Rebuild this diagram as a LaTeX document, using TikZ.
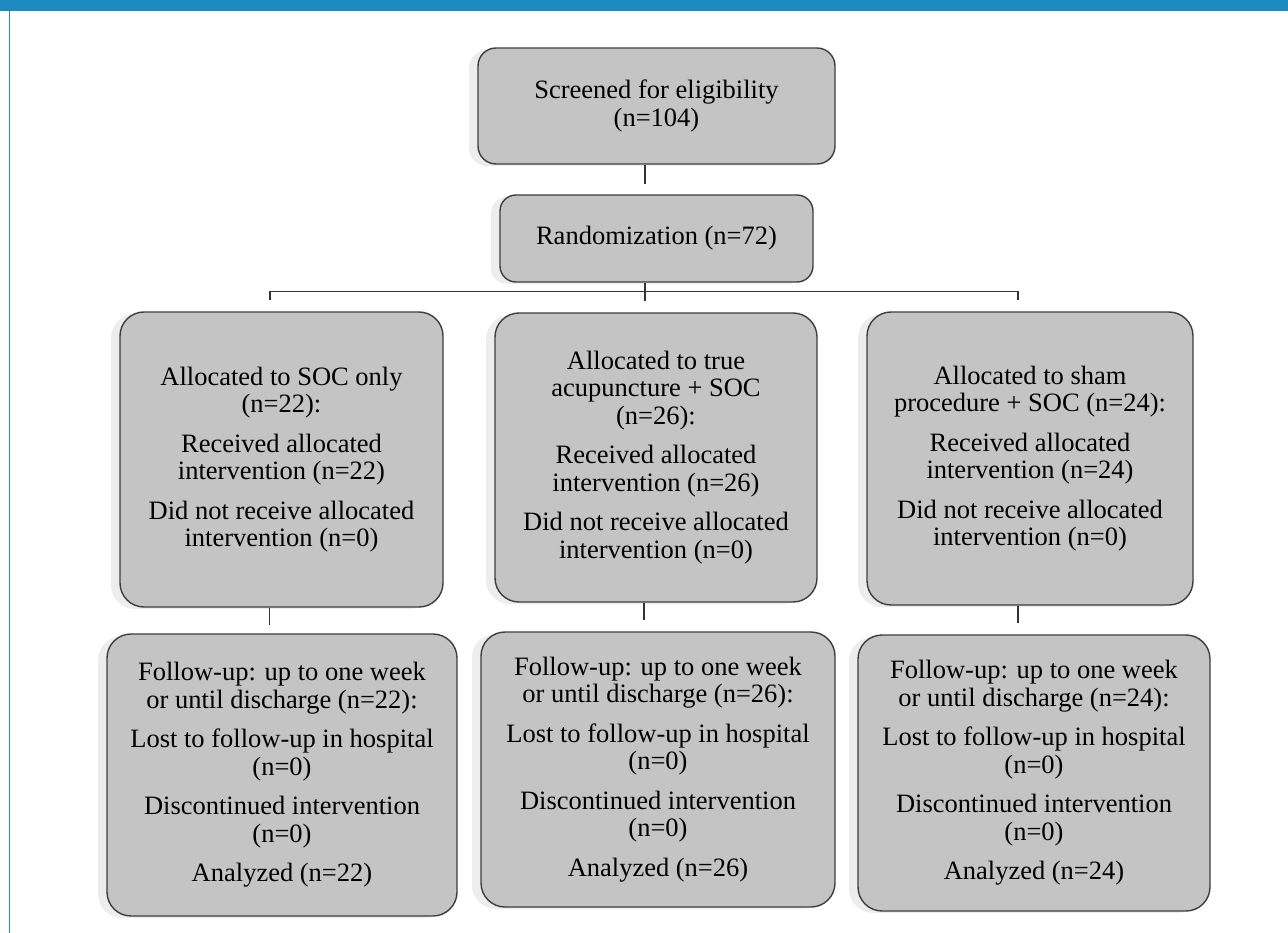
\documentclass[tikz,border=0pt]{standalone}
\usepackage{fontspec}
\setmainfont{Liberation Serif}
\usepackage{tikz}
\usetikzlibrary{calc,shadows}

\definecolor{kopfblau}{RGB}{30,137,192}
\definecolor{boxgrau}{RGB}{196,196,196}
\definecolor{randgrau}{RGB}{62,62,62}

\begin{document}
\begin{tikzpicture}[x=1pt, y=-1pt,
	kasten/.style={draw=randgrau, line width=1.4pt, fill=boxgrau, rounded corners=24pt,
		align=center, inner sep=0pt, font=\fontsize{26.5}{27.5}\selectfont,
		drop shadow={shadow xshift=-9pt, shadow yshift=-2pt, fill=black!7, opacity=1}},
	linie/.style={draw=black!80, line width=1.4pt}]
	\fill[white] (0,0) rectangle (1288,933); % Weisser Hintergrund
	\useasboundingbox (0,0) rectangle (1288,933);
	
	% Rahmen oben und links
	\fill[kopfblau] (0,0) rectangle (1288,11);
	\fill[kopfblau] (8.5,11) rectangle (10,933);
	
	\node[kasten, minimum width=357pt, minimum height=116pt, rounded corners=18pt] (screen) at (656.5,106) {Screened for eligibility\\(n=104)};
	\node[kasten, minimum width=313pt, minimum height=87pt, rounded corners=16pt] (rand) at (656.5,238.5) {Randomization (n=72)};
	
	% Gruppen
	\node[kasten, minimum width=323pt, minimum height=295pt] (soc) at (281.5,459.5) {Allocated to SOC only\\(n=22):\\[12pt]Received allocated\\intervention (n=22)\\[12pt]Did not receive allocated\\intervention (n=0)};
	\node[kasten, minimum width=322pt, minimum height=289pt] (akup) at (656,457.5) {Allocated to true\\acupuncture + SOC\\(n=26):\\[12pt]Received allocated\\intervention (n=26)\\[12pt]Did not receive allocated\\intervention (n=0)};
	\node[kasten, minimum width=326pt, minimum height=293pt] (sham) at (1030,458.5) {Allocated to sham\\procedure + SOC (n=24):\\[12pt]Received allocated\\intervention (n=24)\\[12pt]Did not receive allocated\\intervention (n=0)};
	
	% Follow-up
	\node[kasten, minimum width=350pt, minimum height=282pt] (fuSoc) at (282,775) {Follow-up: up to one week\\or until discharge (n=22):\\[12pt]Lost to follow-up in hospital\\(n=0)\\[12pt]Discontinued intervention\\(n=0)\\[12pt]Analyzed (n=22)};
	\node[kasten, minimum width=354pt, minimum height=275pt] (fuAkup) at (658,769.5) {Follow-up: up to one week\\or until discharge (n=26):\\[12pt]Lost to follow-up in hospital\\(n=0)\\[12pt]Discontinued intervention\\(n=0)\\[12pt]Analyzed (n=26)};
	\node[kasten, minimum width=352pt, minimum height=276pt] (fuSham) at (1034,773) {Follow-up: up to one week\\or until discharge (n=24):\\[12pt]Lost to follow-up in hospital\\(n=0)\\[12pt]Discontinued intervention\\(n=0)\\[12pt]Analyzed (n=24)};
	
	% Verbindungen
	\draw[linie] ([xshift=-11.5pt]screen.south) -- ++(0,19);
	\draw[linie] ([xshift=-11.5pt]rand.south) -- ++(0,18);
	\coordinate (astL) at ([xshift=-11.5pt, yshift=20pt]soc.north);
	\coordinate (astR) at ([xshift=-12pt, yshift=20pt]sham.north);
	\draw[linie] ([yshift=-9pt]astL) -- (astL) -- (astR) -- ([yshift=-9pt]astR);
	\foreach \k in {soc, akup, sham}
		\draw[linie] ([xshift=-12pt]\k.south) -- ++(0,17);
	
	%\draw[help lines, step=50] (0,0) grid (1288,933);
\end{tikzpicture}
\end{document}
